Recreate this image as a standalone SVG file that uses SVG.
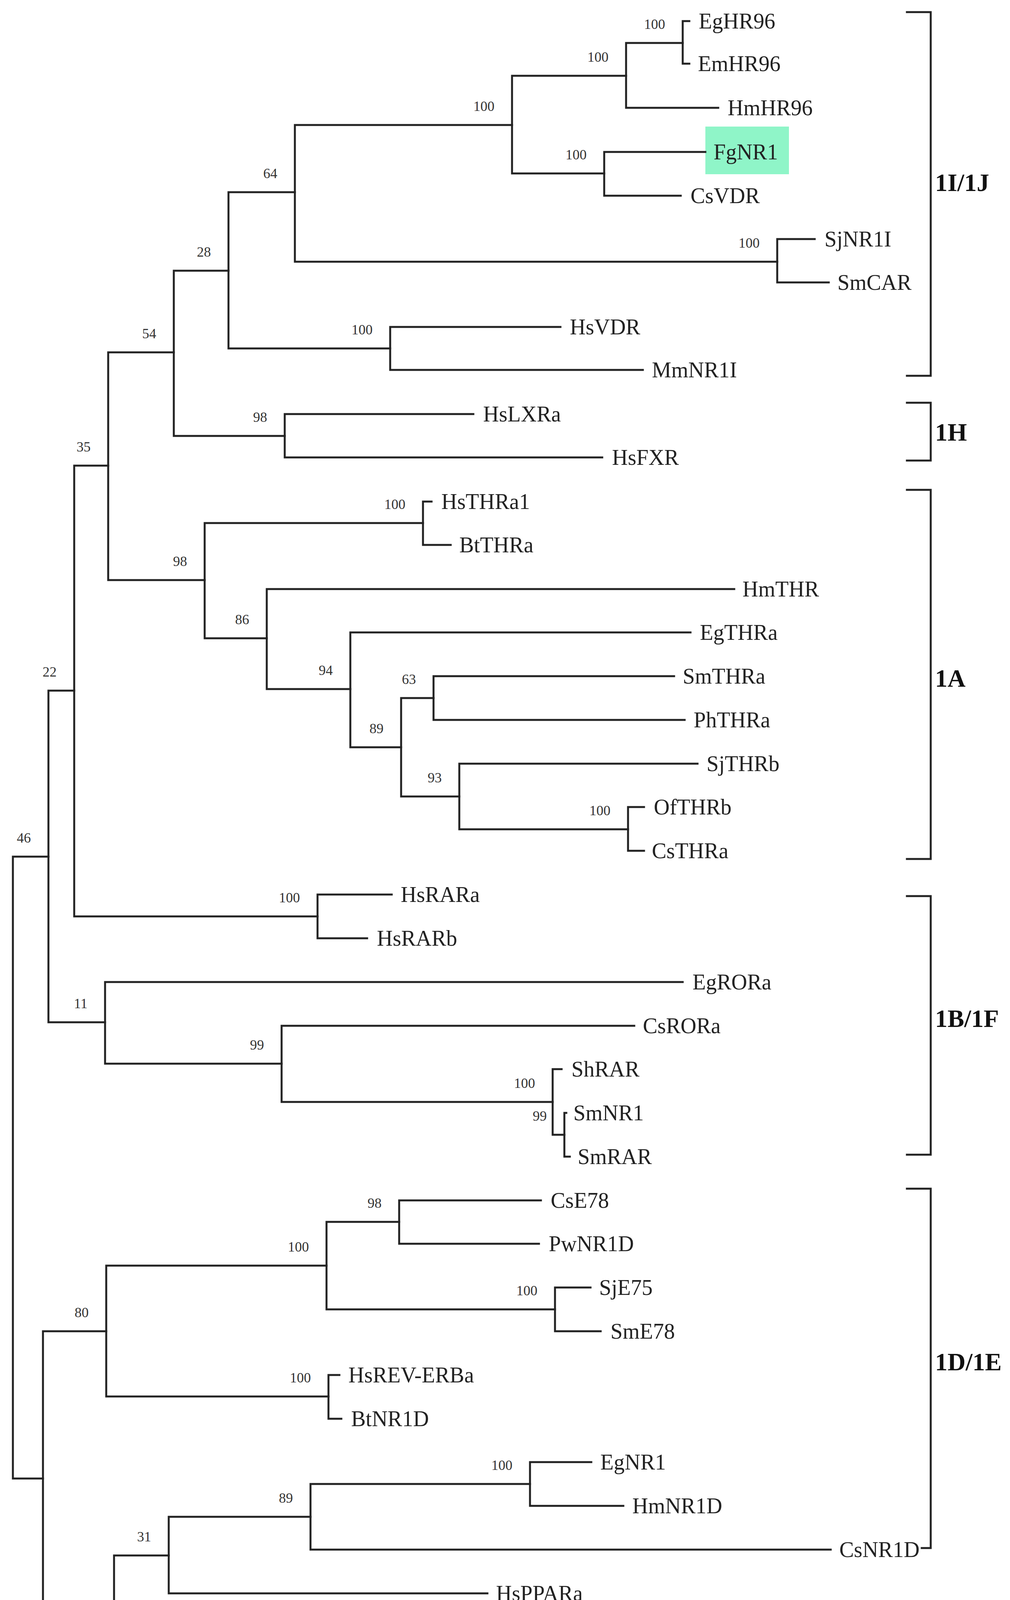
<svg xmlns="http://www.w3.org/2000/svg" width="2586" height="4648" viewBox="0 0 2586 4648">
<style>
.b{stroke:#222;stroke-width:5;fill:none;stroke-linecap:square}
.lf{font-family:"Liberation Serif",serif;font-size:56px;fill:#222}
.sp{font-family:"Liberation Serif",serif;font-size:36px;fill:#333;text-anchor:end}
.cl{font-family:"Liberation Serif",serif;font-size:64px;font-weight:bold;fill:#111}
.sc{font-family:"Liberation Sans",sans-serif;font-size:34px;fill:#222;text-anchor:middle}
</style>
<rect width="2586" height="4648" fill="#fff"/>
<rect id="highlight" x="1806" y="324" width="214" height="122" fill="#8ff5c8"/>
<g id="connectors" class="b">
<path d="M33,2193V3785M33,2193H124M33,3785H110"/>
<path d="M124,1768V2617M124,1768H190M124,2617H269"/>
<path d="M190,1192V2346M190,1192H277M190,2346H813"/>
<path d="M277,902V1485M277,902H445M277,1485H524"/>
<path d="M445,693V1116M445,693H585M445,1116H729"/>
<path d="M585,492V892M585,492H755M585,892H999"/>
<path d="M755,320V670M755,320H1311M755,670H1990"/>
<path d="M1311,194V444M1311,194H1603M1311,444H1547"/>
<path d="M1603,110V276M1603,110H1748M1603,276H1839"/>
<path d="M1748,54V163M1748,54H1765M1748,163H1765"/>
<path d="M1547,389V501M1547,389H1806M1547,501H1743"/>
<path d="M1990,612V723M1990,612H2086M1990,723H2122"/>
<path d="M999,837V947M999,837H1435M999,947H1646"/>
<path d="M729,1060V1171M729,1060H1212M729,1171H1542"/>
<path d="M524,1339V1634M524,1339H1083M524,1634H683"/>
<path d="M1083,1284V1395M1083,1284H1105M1083,1395H1154"/>
<path d="M683,1508V1764M683,1508H1880M683,1764H897"/>
<path d="M897,1619V1913M897,1619H1768M897,1913H1027"/>
<path d="M1027,1787V2039M1027,1787H1110M1027,2039H1176"/>
<path d="M1110,1731V1843M1110,1731H1726M1110,1843H1753"/>
<path d="M1176,1955V2123M1176,1955H1786M1176,2123H1608"/>
<path d="M1608,2066V2178M1608,2066H1649M1608,2178H1649"/>
<path d="M813,2290V2402M813,2290H1003M813,2402H940"/>
<path d="M269,2514V2723M269,2514H1748M269,2723H721"/>
<path d="M721,2626V2821M721,2626H1624M721,2821H1415"/>
<path d="M1415,2737V2905M1415,2737H1438M1415,2905H1445"/>
<path d="M1445,2849V2961M1445,2849H1450M1445,2961H1459"/>
<path d="M110,3408V4168M110,3408H272M110,4168H292"/>
<path d="M272,3240V3575M272,3240H836M272,3575H841"/>
<path d="M836,3128V3352M836,3128H1022M836,3352H1421"/>
<path d="M1022,3073V3184M1022,3073H1385M1022,3184H1380"/>
<path d="M1421,3296V3408M1421,3296H1512M1421,3408H1538"/>
<path d="M841,3520V3632M841,3520H869M841,3632H874"/>
<path d="M292,3982V4360M292,3982H432M292,4360H660"/>
<path d="M432,3883V4079M432,3883H795M432,4079H1248"/>
<path d="M795,3799V3967M795,3799H1357M795,3967H2127"/>
<path d="M1357,3743V3855M1357,3743H1514M1357,3855H1596"/>
<path d="M660,4246V4470M660,4246H869M660,4470H1027"/>
<path d="M869,4191V4302M869,4191H1135M869,4302H1133"/>
<path d="M1027,4414V4526M1027,4414H1083M1027,4526H1102"/>
</g>
<g id="leaves" class="lf">
<g id="EgHR96"><text x="1789" y="73">EgHR96</text></g>
<g id="EmHR96"><text x="1787" y="182">EmHR96</text></g>
<g id="HmHR96"><text x="1863" y="295">HmHR96</text></g>
<g id="FgNR1"><text x="1827" y="408">FgNR1</text></g>
<g id="CsVDR"><text x="1768" y="520">CsVDR</text></g>
<g id="SjNR1I"><text x="2111" y="631">SjNR1I</text></g>
<g id="SmCAR"><text x="2144" y="742">SmCAR</text></g>
<g id="HsVDR"><text x="1459" y="856">HsVDR</text></g>
<g id="MmNR1I"><text x="1669" y="966">MmNR1I</text></g>
<g id="HsLXRa"><text x="1237" y="1079">HsLXRa</text></g>
<g id="HsFXR"><text x="1567" y="1190">HsFXR</text></g>
<g id="HsTHRa1"><text x="1130" y="1303">HsTHRa1</text></g>
<g id="BtTHRa"><text x="1176" y="1414">BtTHRa</text></g>
<g id="HmTHR"><text x="1901" y="1527">HmTHR</text></g>
<g id="EgTHRa"><text x="1792" y="1638">EgTHRa</text></g>
<g id="SmTHRa"><text x="1748" y="1750">SmTHRa</text></g>
<g id="PhTHRa"><text x="1776" y="1862">PhTHRa</text></g>
<g id="SjTHRb"><text x="1809" y="1974">SjTHRb</text></g>
<g id="OfTHRb"><text x="1674" y="2085">OfTHRb</text></g>
<g id="CsTHRa"><text x="1669" y="2197">CsTHRa</text></g>
<g id="HsRARa"><text x="1026" y="2309">HsRARa</text></g>
<g id="HsRARb"><text x="965" y="2421">HsRARb</text></g>
<g id="EgRORa"><text x="1773" y="2533">EgRORa</text></g>
<g id="CsRORa"><text x="1646" y="2645">CsRORa</text></g>
<g id="ShRAR"><text x="1463" y="2756">ShRAR</text></g>
<g id="SmNR1"><text x="1468" y="2868">SmNR1</text></g>
<g id="SmRAR"><text x="1479" y="2980">SmRAR</text></g>
<g id="CsE78"><text x="1410" y="3092">CsE78</text></g>
<g id="PwNR1D"><text x="1405" y="3203">PwNR1D</text></g>
<g id="SjE75"><text x="1534" y="3315">SjE75</text></g>
<g id="SmE78"><text x="1563" y="3427">SmE78</text></g>
<g id="HsREV-ERBa"><text x="892" y="3539">HsREV-ERBa</text></g>
<g id="BtNR1D"><text x="899" y="3651">BtNR1D</text></g>
<g id="EgNR1"><text x="1537" y="3762">EgNR1</text></g>
<g id="HmNR1D"><text x="1619" y="3874">HmNR1D</text></g>
<g id="CsNR1D"><text x="2149" y="3986">CsNR1D</text></g>
<g id="HsPPARa"><text x="1270" y="4098">HsPPARa</text></g>
<g id="HsRORa1"><text x="1158" y="4210">HsRORa1</text></g>
<g id="HsRORb"><text x="1154" y="4321">HsRORb</text></g>
<g id="BtRORg"><text x="1105" y="4433">BtRORg</text></g>
<g id="MmRORg"><text x="1125" y="4545">MmRORg</text></g>
</g>
<g id="support" class="sp">
<text x="79" y="2157">46</text>
<text x="145" y="1732">22</text>
<text x="232" y="1156">35</text>
<text x="400" y="866">54</text>
<text x="540" y="657">28</text>
<text x="710" y="456">64</text>
<text x="1266" y="284">100</text>
<text x="1558" y="158">100</text>
<text x="1703" y="74">100</text>
<text x="1502" y="408">100</text>
<text x="1945" y="634">100</text>
<text x="954" y="856">100</text>
<text x="684" y="1080">98</text>
<text x="479" y="1449">98</text>
<text x="1038" y="1303">100</text>
<text x="638" y="1598">86</text>
<text x="852" y="1728">94</text>
<text x="982" y="1877">89</text>
<text x="1065" y="1751">63</text>
<text x="1131" y="2003">93</text>
<text x="1563" y="2087">100</text>
<text x="768" y="2310">100</text>
<text x="224" y="2581">11</text>
<text x="676" y="2687">99</text>
<text x="1370" y="2785">100</text>
<text x="1400" y="2869">99</text>
<text x="227" y="3372">80</text>
<text x="791" y="3204">100</text>
<text x="977" y="3092">98</text>
<text x="1376" y="3316">100</text>
<text x="796" y="3539">100</text>
<text x="247" y="4132">43</text>
<text x="387" y="3946">31</text>
<text x="750" y="3847">89</text>
<text x="1312" y="3763">100</text>
<text x="615" y="4324">100</text>
<text x="824" y="4210">99</text>
<text x="982" y="4434">100</text>
</g>
<g id="brackets" class="b">
<path d="M2322,31H2383V962H2322"/>
<path d="M2322,1031H2383V1179H2322"/>
<path d="M2322,1254H2383V2199H2322"/>
<path d="M2322,2294H2383V2956H2322"/>
<path d="M2322,3043H2383V3963H2360"/>
<path d="M2322,4173H2383V4526H2322"/>
</g>
<g id="clades" class="cl">
<text x="2394" y="489">1I/1J</text>
<text x="2394" y="1128">1H</text>
<text x="2394" y="1758">1A</text>
<text x="2394" y="2629">1B/1F</text>
<text x="2394" y="3508">1D/1E</text>
<text x="2394" y="4377">1F</text>
</g>
<g id="scalebar">
<path class="b" d="M49,4567H473M49,4548V4589M473,4548V4589"/>
<text class="sc" x="261" y="4622">0.50</text>
</g>
</svg>
